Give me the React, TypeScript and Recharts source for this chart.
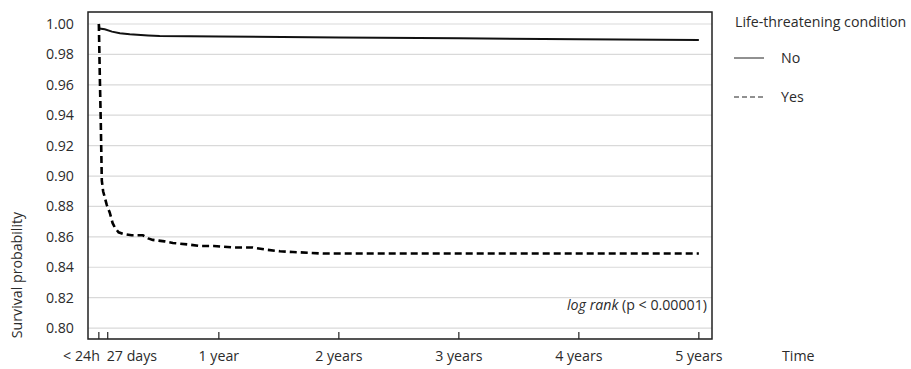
import { LineChart, Line, XAxis, YAxis, CartesianGrid, ReferenceArea } from 'recharts';

// time in days since admission
const timeTicks = [0, 27, 365, 730, 1095, 1460, 1825];
const timeTickLabels = ['< 24h', '27 days', '1 year', '2 years', '3 years', '4 years', '5 years'];
const survivalTicks = [0.8, 0.82, 0.84, 0.86, 0.88, 0.9, 0.92, 0.94, 0.96, 0.98, 1.0];

const timeDomain = [-33, 1865];
const survivalDomain = [0.7928, 1.0079];

// "No" life-threatening condition
const noDays = [0, 2, 18, 40, 64, 94, 150, 185, 365, 730, 1095, 1460, 1825];
const noSurvival = [1.0, 0.997, 0.9965, 0.995, 0.9939, 0.9932, 0.9925, 0.9921, 0.9918, 0.9912, 0.9906, 0.99, 0.9894];

// "Yes" life-threatening condition
const yesDays = [0, 3, 6, 9, 13, 18, 24, 33, 42, 49, 60, 73, 100, 134, 150, 164, 200, 225, 270, 307, 350, 408, 468, 511, 551, 590, 640, 681, 1000, 1400, 1825];
const yesSurvival = [1.0, 0.965, 0.934, 0.897, 0.89, 0.886, 0.881, 0.876, 0.869, 0.866, 0.863, 0.862, 0.861, 0.861, 0.859, 0.858, 0.857, 0.856, 0.855, 0.854, 0.854, 0.853, 0.853, 0.8515, 0.8505, 0.85, 0.8495, 0.849, 0.849, 0.849, 0.849];

const noData = noDays.map((d, i) => ({ day: d, value: noSurvival[i] }));
const yesData = yesDays.map((d, i) => ({ day: d, value: yesSurvival[i] }));

const font = "'Open Sans', sans-serif";
const fontSize = 14.2;
const textColor = '#2b2b2b';

const TimeTick = ({ x, y, payload }: any) => {
  const i = timeTicks.indexOf(payload.value);
  const anchor = i === 0 ? 'end' : i === 1 ? 'start' : 'middle';
  const tx = i === 0 ? x + 1 : i === 1 ? x - 1 : x;
  return (
    <g>
      <line x1={x} x2={x} y1={y} y2={y - 7} stroke="#222" strokeWidth={1.2} />
      <text x={tx} y={y + 22} textAnchor={anchor} fill={textColor} fontSize={fontSize} fontFamily={font}>
        {timeTickLabels[i]}
      </text>
    </g>
  );
};

export default function App() {
  return (
    <div style={{ position: 'absolute', left: 0, top: 0, width: 911, height: 369, background: '#fff', fontFamily: font }}>
      <LineChart
        width={911}
        height={369}
        margin={{ top: 12, right: 199, left: 28, bottom: 0 }}
        style={{ fontFamily: font }}
      >
        <CartesianGrid vertical={false} stroke="#d9d9d9" strokeWidth={1.2} />
        <XAxis
          dataKey="day"
          type="number"
          domain={timeDomain}
          ticks={timeTicks}
          interval={0}
          allowDataOverflow
          height={30}
          tickSize={0}
          tickMargin={0}
          tickLine={false}
          axisLine={false}
          tick={<TimeTick />}
          label={{
            content: () => (
              <text x={782} y={361} fill={textColor} fontSize={fontSize} fontFamily={font}>
                Time
              </text>
            ),
          }}
        />
        <YAxis
          type="number"
          domain={survivalDomain}
          ticks={survivalTicks}
          interval={0}
          allowDataOverflow
          width={60}
          tickSize={0}
          tickMargin={14}
          tickLine={false}
          axisLine={false}
          tickFormatter={(v: number) => v.toFixed(2)}
          tick={{ fill: textColor, fontSize: fontSize, fontFamily: font }}
          label={{
            content: () => (
              <text
                x={0}
                y={0}
                transform="translate(22, 275) rotate(-90)"
                textAnchor="middle"
                fill={textColor}
                fontSize={fontSize}
                fontFamily={font}
              >
                Survival probability
              </text>
            ),
          }}
        />
        <ReferenceArea
          x1={timeDomain[0]}
          x2={timeDomain[1]}
          y1={survivalDomain[0]}
          y2={survivalDomain[1]}
          fill="none"
          stroke="#222"
          strokeWidth={1.5}
          ifOverflow="visible"
          label={{
            content: ({ viewBox }: any) => (
              <text
                x={viewBox.x + viewBox.width - 5}
                y={viewBox.y + viewBox.height - 29}
                textAnchor="end"
                fill={textColor}
                fontSize={fontSize}
                fontFamily={font}
              >
                <tspan fontStyle="italic">log rank</tspan>
                <tspan> (p &lt; 0.00001)</tspan>
              </text>
            ),
          }}
        />
        <Line
          data={noData}
          dataKey="value"
          type="linear"
          stroke="#111"
          strokeWidth={2}
          dot={false}
          isAnimationActive={false}
        />
        <Line
          data={yesData}
          dataKey="value"
          type="linear"
          stroke="#000"
          strokeWidth={2.6}
          strokeDasharray="7 4"
          dot={false}
          isAnimationActive={false}
        />
      </LineChart>
      <div style={{ position: 'absolute', left: 735, top: 12, fontSize: fontSize, color: textColor, lineHeight: '20px', whiteSpace: 'nowrap' }}>
        Life-threatening condition
      </div>
      <div style={{ position: 'absolute', left: 734, top: 48, fontSize: fontSize, color: textColor, lineHeight: '20px', display: 'flex', alignItems: 'center' }}>
        <svg width={30} height={20} style={{ display: 'block' }}>
          <line x1={0} x2={30} y1={10} y2={10} stroke="#222" strokeWidth={1} />
        </svg>
        <span style={{ marginLeft: 17 }}>No</span>
      </div>
      <div style={{ position: 'absolute', left: 734, top: 87, fontSize: fontSize, color: textColor, lineHeight: '20px', display: 'flex', alignItems: 'center' }}>
        <svg width={30} height={20} style={{ display: 'block' }}>
          <line x1={0} x2={30} y1={10} y2={10} stroke="#222" strokeWidth={1} strokeDasharray="5 3" />
        </svg>
        <span style={{ marginLeft: 17 }}>Yes</span>
      </div>
    </div>
  );
}
